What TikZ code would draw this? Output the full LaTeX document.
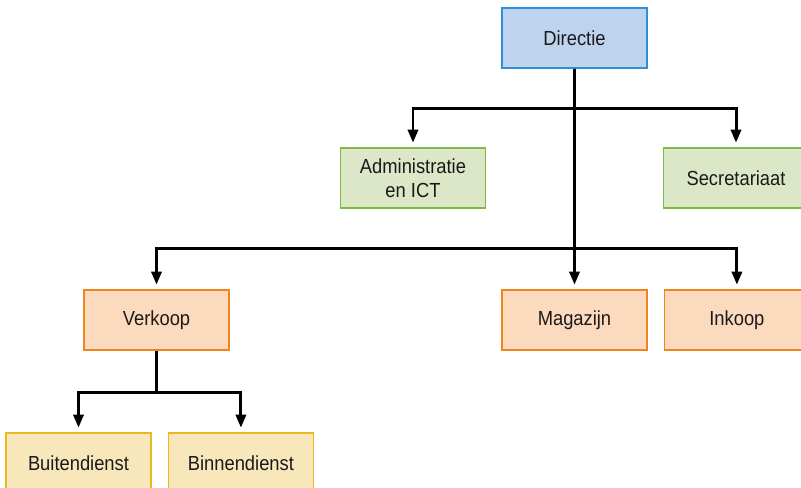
\documentclass[tikz,border=0pt]{standalone}
\usepackage{fontspec}
\setmainfont{Liberation Sans}[FakeStretch=0.9]
\usepackage{tikz}
\usetikzlibrary{arrows.meta,positioning,calc}
\usepackage{xcolor}
\definecolor{ink}{HTML}{1A1A1A}
\definecolor{blueline}{HTML}{2E8ED8}
\definecolor{bluefill}{HTML}{BED4EE}
\definecolor{greenline}{HTML}{7DBB45}
\definecolor{greenfill}{HTML}{DCE7C7}
\definecolor{orangeline}{HTML}{F0841F}
\definecolor{orangefill}{HTML}{FCDABD}
\definecolor{yellowline}{HTML}{E7BA22}
\definecolor{yellowfill}{HTML}{F8E7BB}

\begin{document}
\begin{tikzpicture}[font=\fontsize{11.6}{13.6}\selectfont, text=ink, node distance=0.32cm and 0.32cm,
  unit/.style={draw, line width=0.8pt, minimum width=2.9cm, minimum height=1.2cm, align=center, inner sep=2pt},
  top/.style={unit, draw=blueline, fill=bluefill},
  staff/.style={unit, draw=greenline, fill=greenfill},
  dept/.style={unit, draw=orangeline, fill=orangefill},
  sub/.style={unit, draw=yellowline, fill=yellowfill},
  arr/.style={-{Triangle[length=7.5pt,width=5.8pt]}, line width=1.7pt, black, shorten >=2.6pt}]
  \useasboundingbox (0,0) rectangle (16.02,-9.76);
  \node[top] (dir) at (11.49,-0.76) {Directie};
  \node[staff] (adm) at (8.26,-3.56) {Administratie\\en ICT};
  \node[staff] (sec) at (14.72,-3.56) {Secretariaat};
  \node[dept] (mag) at (11.49,-6.40) {Magazijn};
  \node[dept, right=of mag] (ink) {Inkoop};
  \node[dept] (verk) at (3.13,-6.40) {Verkoop};
  \node[sub] (buit) at (1.57,-9.26) {Buitendienst};
  \node[sub, right=of buit] (binn) {Binnendienst};
  % staf
  \draw[arr] (dir.south) -- ++(0,-0.8) -| (adm.north);
  \draw[arr] (dir.south) -- ++(0,-0.8) -| (sec.north);
  % afdelingen
  \draw[arr] (dir.south) -- ++(0,-3.6) -| (verk.north);
  \draw[arr] (dir.south) -- (mag.north);
  \draw[arr] (dir.south) -- ++(0,-3.6) -| (ink.north);
  % verkoop
  \draw[arr] (verk.south) -- ++(0,-0.84) -| (buit.north);
  \draw[arr] (verk.south) -- ++(0,-0.84) -| (binn.north);
\end{tikzpicture}
\end{document}
